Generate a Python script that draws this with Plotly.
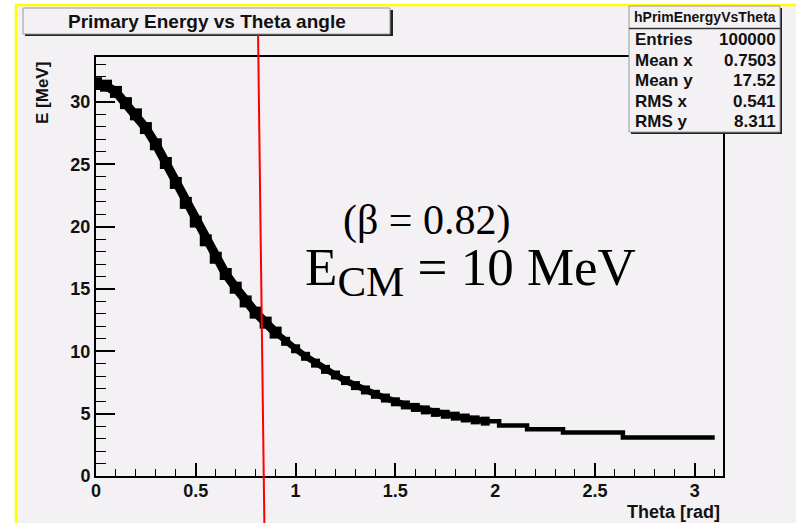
import plotly.graph_objects as go

# ---- data -------------------------------------------------------------
# Primary energy (MeV) vs theta (rad), read along the band of filled bins
theta_steep = [0.00, 0.05, 0.10, 0.15, 0.20, 0.25, 0.30, 0.35, 0.40, 0.45,
               0.50, 0.55, 0.60, 0.65, 0.70, 0.75, 0.80, 0.85, 0.90]
energy_steep = [31.5, 31.3, 30.8, 29.9, 29.0, 27.9, 26.6, 25.1, 23.5, 21.9,
                20.4, 18.9, 17.5, 16.2, 15.1, 14.0, 13.1, 12.3, 11.5]

theta_mid = [0.90, 0.95, 1.00, 1.05, 1.10, 1.15, 1.20, 1.25, 1.30, 1.35,
             1.40, 1.45, 1.50, 1.55, 1.60, 1.65, 1.70, 1.75, 1.80, 1.85,
             1.90, 1.95, 2.02]
energy_mid = [11.5, 10.8, 10.2, 9.6, 9.05, 8.55, 8.1, 7.65, 7.25, 6.9,
              6.55, 6.25, 5.95, 5.7, 5.5, 5.3, 5.1, 4.95, 4.8, 4.65,
              4.5, 4.4, 4.05]

theta_tail = [2.02, 2.16, 2.34, 2.64, 3.10]
energy_tail = [4.05, 3.75, 3.48, 3.08, 3.08]

x_tick_vals = [0, 0.5, 1, 1.5, 2, 2.5, 3]
x_tick_text = ["0", "0.5", "1", "1.5", "2", "2.5", "3"]
y_tick_vals = [0, 5, 10, 15, 20, 25, 30]

stats_name = "hPrimEnergyVsTheta"
stats_labels = ["Entries", "Mean x", "Mean y", "RMS x", "RMS y"]
stats_values = ["100000", "0.7503", "17.52", "0.541", "8.311"]

marker_theta = [0.812, 0.844]   # red vertical marker (top, bottom)

# ---- geometry helpers (pixel -> paper) --------------------------------
W, H = 796, 523
L, R, T, B = 96, 73, 57, 47
PW, PH = W - L - R, H - T - B


def px(xp):
    return (xp - L) / PW


def py(yp):
    return (H - B - yp) / PH


CANVAS = "#f4f1f5"
INK = "#111111"
SANS = "Liberation Sans, Arial, sans-serif"
SERIF = "Liberation Serif, Times New Roman, serif"

fig = go.Figure()

# band of filled bins: thick line with square boxes at each bin
for xs, ys, w, ms in [(theta_steep, energy_steep, 9, 12),
                      (theta_mid[:-1], energy_mid[:-1], 6.5, 9)]:
    fig.add_trace(go.Scatter(
        x=xs, y=ys, mode="lines+markers",
        line=dict(color="black", width=w),
        marker=dict(symbol="square", size=ms, color="black",
                    line=dict(width=0)),
        hoverinfo="skip", showlegend=False))

# flat tail drawn as steps
fig.add_trace(go.Scatter(
    x=[theta_mid[-2]] + theta_tail, y=[energy_mid[-2]] + energy_tail,
    mode="lines", line=dict(color="black", width=4.5, shape="hv"),
    hoverinfo="skip", showlegend=False))

shapes = []
# canvas with yellow border
shapes.append(dict(type="rect", xref="paper", yref="paper",
                   x0=px(16), x1=px(820), y0=py(5), y1=py(560),
                   fillcolor=CANVAS, line=dict(color="#ffff00", width=2.5),
                   layer="below"))

# title box (shadow + box)
shapes.append(dict(type="rect", xref="paper", yref="paper",
                   x0=px(25), x1=px(393), y0=py(10), y1=py(36),
                   fillcolor="#222222", line=dict(width=0), layer="above"))
shapes.append(dict(type="rect", xref="paper", yref="paper",
                   x0=px(23), x1=px(390), y0=py(8), y1=py(34),
                   fillcolor=CANVAS, line=dict(color="#999999", width=1),
                   layer="above"))

# stats box (shadow + box + header separator)
shapes.append(dict(type="rect", xref="paper", yref="paper",
                   x0=px(631), x1=px(782), y0=py(8), y1=py(134),
                   fillcolor="#222222", line=dict(width=0), layer="above"))
shapes.append(dict(type="rect", xref="paper", yref="paper",
                   x0=px(629), x1=px(780), y0=py(6), y1=py(132),
                   fillcolor=CANVAS, line=dict(color="#999999", width=1),
                   layer="above"))
shapes.append(dict(type="line", xref="paper", yref="paper",
                   x0=px(629), x1=px(780), y0=py(28.5), y1=py(28.5),
                   line=dict(color="#333333", width=1.5), layer="above"))

# red marker line
shapes.append(dict(type="line", xref="x", yref="paper",
                   x0=marker_theta[0], x1=marker_theta[1],
                   y0=py(35), y1=py(530),
                   line=dict(color="#ff0000", width=2), layer="above"))

annotations = []
annotations.append(dict(xref="paper", yref="paper", x=px(207), y=py(22),
                        text="<b>Primary Energy vs Theta angle</b>",
                        showarrow=False, xanchor="center", yanchor="middle",
                        font=dict(family=SANS, size=19, color=INK)))
annotations.append(dict(xref="paper", yref="paper", x=px(705), y=py(17),
                        text="<b>" + stats_name + "</b>", showarrow=False,
                        xanchor="center", yanchor="middle",
                        font=dict(family=SANS, size=14, color=INK)))
for i, (lab, val) in enumerate(zip(stats_labels, stats_values)):
    yy = 39.5 + 20.6 * i
    annotations.append(dict(xref="paper", yref="paper", x=px(633), y=py(yy),
                            text="<b>" + lab + "</b>", showarrow=False,
                            xanchor="left", yanchor="middle",
                            font=dict(family=SANS, size=17, color=INK)))
    annotations.append(dict(xref="paper", yref="paper", x=px(778), y=py(yy),
                            text="<b>" + val + "</b>", showarrow=False,
                            xanchor="right", yanchor="middle",
                            font=dict(family=SANS, size=17, color=INK)))

# axis titles
annotations.append(dict(xref="paper", yref="paper", x=px(722), y=py(512),
                        text="<b>Theta [rad]</b>", showarrow=False,
                        xanchor="right", yanchor="middle",
                        font=dict(family=SANS, size=18, color=INK)))
annotations.append(dict(xref="paper", yref="paper", x=px(42), y=py(93),
                        text="<b>E [MeV]</b>", showarrow=False, textangle=-90,
                        xanchor="center", yanchor="middle",
                        font=dict(family=SANS, size=17, color=INK)))

# physics labels
annotations.append(dict(xref="paper", yref="paper", x=px(427), y=py(220),
                        text="(β = 0.82)", showarrow=False,
                        xanchor="center", yanchor="middle",
                        font=dict(family=SERIF, size=42, color="black")))
annotations.append(dict(xref="paper", yref="paper", x=px(303), y=py(271),
                        text='E<sub><span style="font-size:43px">CM</span></sub>'
                             ' = 10 MeV',
                        showarrow=False,
                        xanchor="left", yanchor="middle",
                        font=dict(family=SERIF, size=53, color="black")))

fig.update_layout(
    width=W, height=H, autosize=False,
    margin=dict(l=L, r=R, t=T, b=B, pad=0),
    paper_bgcolor="white", plot_bgcolor=CANVAS,
    shapes=shapes, annotations=annotations,
    showlegend=False,
)

fig.update_xaxes(
    range=[0, 3.1416], tickvals=x_tick_vals, ticktext=x_tick_text,
    ticks="inside", ticklen=13, tickwidth=1.5, tickcolor="black",
    minor=dict(ticks="inside", ticklen=7, dtick=0.1, tick0=0,
               tickwidth=1.2, tickcolor="black", showgrid=False),
    showline=True, linewidth=2, linecolor="black", mirror=True,
    showgrid=False, zeroline=False, ticklabelstandoff=-3,
    tickfont=dict(family=SANS, size=18, color=INK, weight="bold"),
)
fig.update_yaxes(
    range=[0, 33.6], tickvals=y_tick_vals,
    ticks="inside", ticklen=19, tickwidth=1.5, tickcolor="black",
    minor=dict(ticks="inside", ticklen=10, dtick=1, tick0=0,
               tickwidth=1.2, tickcolor="black", showgrid=False),
    showline=True, linewidth=2, linecolor="black", mirror=True,
    showgrid=False, zeroline=False,
    tickfont=dict(family=SANS, size=18, color=INK, weight="bold"),
)

fig.write_html("out.html")
